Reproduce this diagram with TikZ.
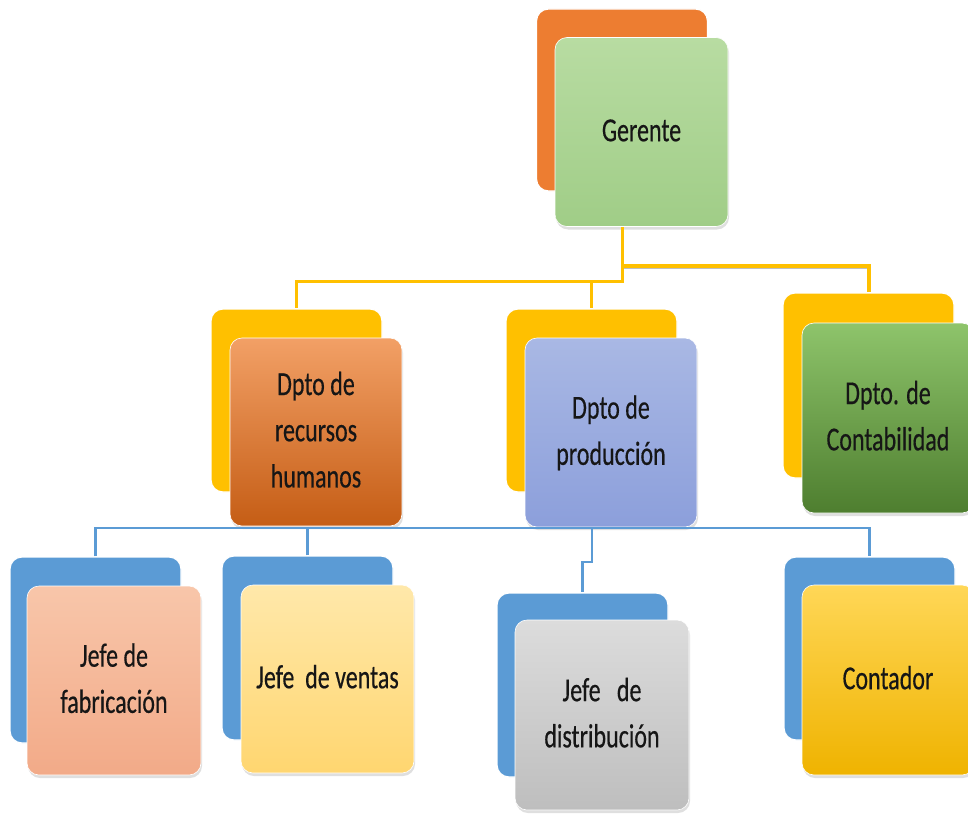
\documentclass[tikz,border=0pt]{standalone}
\usepackage{fontspec}
\setmainfont{Carlito}
\newfontfamily\boxfont{Carlito}[FakeBold=0.5]
\usepackage{graphicx}
\usetikzlibrary{shadows}
\definecolor{bYel}{HTML}{FFC000}
\definecolor{bBlue}{HTML}{5B9BD5}
\definecolor{bOrg}{HTML}{ED7D31}
\definecolor{linkY}{HTML}{FFC000}
\definecolor{linkB}{HTML}{5B9BD5}
\definecolor{txt}{HTML}{161616}
\definecolor{gerT}{HTML}{B8DCA2}\definecolor{gerBo}{HTML}{A0CD87}
\definecolor{hrT}{HTML}{F2A066}\definecolor{hrBo}{HTML}{C55D15}
\definecolor{prT}{HTML}{A9B8E4}\definecolor{prBo}{HTML}{8C9FDB}
\definecolor{coT}{HTML}{8EC46B}\definecolor{coBo}{HTML}{4E7E2F}
\definecolor{faT}{HTML}{F8C6AA}\definecolor{faBo}{HTML}{F2AA88}
\definecolor{veT}{HTML}{FFE8AA}\definecolor{veBo}{HTML}{FFD670}
\definecolor{diT}{HTML}{DCDCDC}\definecolor{diBo}{HTML}{BEBEBE}
\definecolor{cdT}{HTML}{FFD757}\definecolor{cdBo}{HTML}{EFB300}
\newcommand{\tx}[1]{\scalebox{1}[1.4]{\begin{tabular}{@{}c@{}}#1\end{tabular}}}
\tikzset{
  backbox/.style={rounded corners=12pt, draw=white, line width=1.2pt, inner sep=0pt},
  frontbox/.style={rounded corners=12pt, draw=white, line width=0.6pt, inner sep=0pt,
    font=\boxfont\fontsize{24}{33}\selectfont, text=txt,
    drop shadow={opacity=0.25, shadow xshift=1pt, shadow yshift=-3pt}},
  ylink/.style={draw=linkY, line width=3pt},
  blink/.style={draw=linkB, line width=2.2pt},
}
\begin{document}
\begin{tikzpicture}[x=1pt,y=-1pt]
\useasboundingbox (0,0) rectangle (968,813);
\clip (0,0) rectangle (968,813);
% back boxes
\node[backbox, fill=bOrg, minimum width=171pt, minimum height=182pt] (gerB) at (622,100) {};
\node[backbox, fill=bYel, minimum width=171pt, minimum height=183pt] (hrB) at (296.5,400.5) {};
\node[backbox, fill=bYel, minimum width=171pt, minimum height=183pt] (prodB) at (591.5,400.5) {};
\node[backbox, fill=bYel, minimum width=171pt, minimum height=185pt] (contB) at (868.5,385.5) {};
\node[backbox, fill=bBlue, minimum width=171pt, minimum height=186pt] (fabB) at (95.5,650) {};
\node[backbox, fill=bBlue, minimum width=171pt, minimum height=184pt] (ventB) at (307.5,648) {};
\node[backbox, fill=bBlue, minimum width=171pt, minimum height=184pt] (distB) at (582.5,685) {};
\node[backbox, fill=bBlue, minimum width=171pt, minimum height=183pt] (cdorB) at (869.5,648.5) {};
% front boxes
\node[frontbox, top color=gerT, bottom color=gerBo, minimum width=173pt, minimum height=189pt] (gerF) at (641.5,132) {\tx{Gerente}};
\node[frontbox, top color=hrT, bottom color=hrBo, minimum width=172pt, minimum height=188pt] (hrF) at (316,432) {\tx{Dpto de\\recursos\\humanos}};
\node[frontbox, top color=prT, bottom color=prBo, minimum width=172pt, minimum height=189pt] (prodF) at (611,432.5) {\tx{Dpto de\\producción}};
\node[frontbox, top color=coT, bottom color=coBo, minimum width=172pt, minimum height=190pt] (contF) at (888,418) {\tx{Dpto. de\\Contabilidad}};
\node[frontbox, top color=faT, bottom color=faBo, minimum width=174pt, minimum height=189pt] (fabF) at (114,680.5) {\tx{Jefe de\\fabricación}};
\node[frontbox, top color=veT, bottom color=veBo, minimum width=173pt, minimum height=188pt] (ventF) at (327.5,679) {\tx{Jefe~~de ventas}};
\node[frontbox, top color=diT, bottom color=diBo, minimum width=174pt, minimum height=190pt] (distF) at (602,715) {\tx{Jefe~~~de\\distribución}};
\node[frontbox, top color=cdT, bottom color=cdBo, minimum width=172pt, minimum height=190pt] (cdorF) at (888,680) {\tx{Contador}};
% yellow connectors
\coordinate (ja) at (622,281);
\coordinate (jb) at (622,266);
\coordinate (jbr) at (869,266);
\draw[draw=black!25, line width=4.5pt] ([yshift=-1pt]jb) -- ([yshift=-1pt]jbr);
\draw[ylink] (gerF.south -| gerB.north) -- (ja) -| (hrB.north);
\draw[ylink] (ja) -| (prodB.north);
\draw[ylink, line width=4pt] (jb) -| (contB.north);
% blue connectors
\coordinate (hb) at (592,528);
\coordinate (jog) at (592,562);
\draw[blink] (fabB.north) |- (hb) -| (cdorB.north);
\draw[blink] (ventB.north) -- (ventB.north |- hb);
\draw[blink] (hb) -- (jog) -| (distB.north);
\end{tikzpicture}
\end{document}
